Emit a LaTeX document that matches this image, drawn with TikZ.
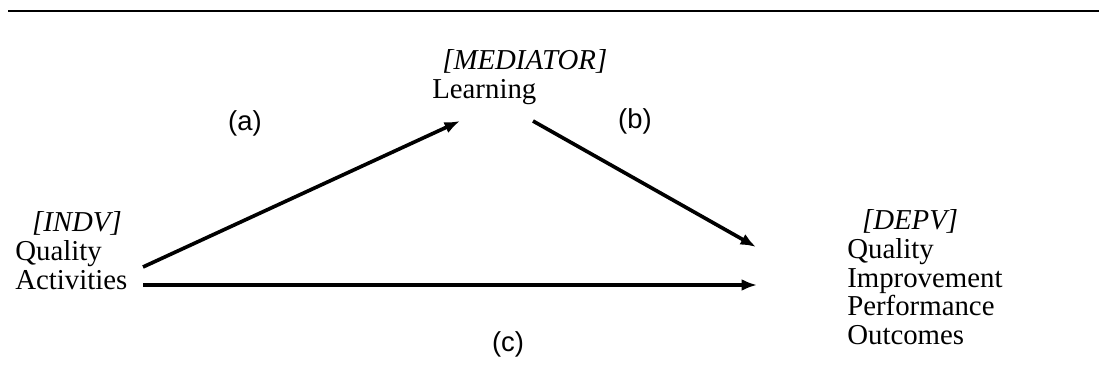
\documentclass[tikz,border=0pt]{standalone}
\usepackage{fontspec}
\setmainfont{Liberation Serif}
\newfontfamily\labelfont{Liberation Sans}
\usetikzlibrary{arrows.meta}

\begin{document}
\begin{tikzpicture}[x=0.025cm, y=-0.025cm, >={Latex[length=11pt, width=8.5pt]}]
  \tikzstyle{var}=[inner sep=0pt, anchor=base west,
                   font=\fontsize{20.5}{20.3}\selectfont]
  \tikzstyle{tag}=[inner sep=0pt, font=\labelfont\fontsize{19.5}{19.5}\selectfont]
  \tikzstyle{link}=[->, line width=2.6pt]

  \useasboundingbox (0,0) rectangle (1099,386);
  \draw[line width=2.1pt] (8,11) -- (1099,11);

  % the three variables
  \node[var](indv) at (15,232){\begin{tabular}[t]{@{}l@{}}\hspace*{0.42cm}\textit{[INDV]}\\Quality\\Activities\end{tabular}};
  \node[var](med) at (432,70){\begin{tabular}[t]{@{}l@{}}\hspace*{0.25cm}\textit{[MEDIATOR]}\\Learning\end{tabular}};
  \node[var](depv) at (847,230){\begin{tabular}[t]{@{}l@{}}\hspace*{0.37cm}\textit{[DEPV]}\\Quality\\Improvement\\Performance\\Outcomes\end{tabular}};

  \coordinate (a0) at (143,267);
  \coordinate (a1) at (460,121);
  \coordinate (b0) at (533,121);
  \coordinate (b1) at (756,247);
  \coordinate (c0) at (143,285);
  \coordinate (c1) at (757,285);

  \draw[link](a0)--(a1);
  \draw[link](b0)--(b1);
  \draw[link](c0)--(c1);

  \node[tag](la) at (245,123){(a)};
  \node[tag](lb) at (635,121){(b)};
  \node[tag](lc) at (508,344){(c)};
\end{tikzpicture}
\end{document}
